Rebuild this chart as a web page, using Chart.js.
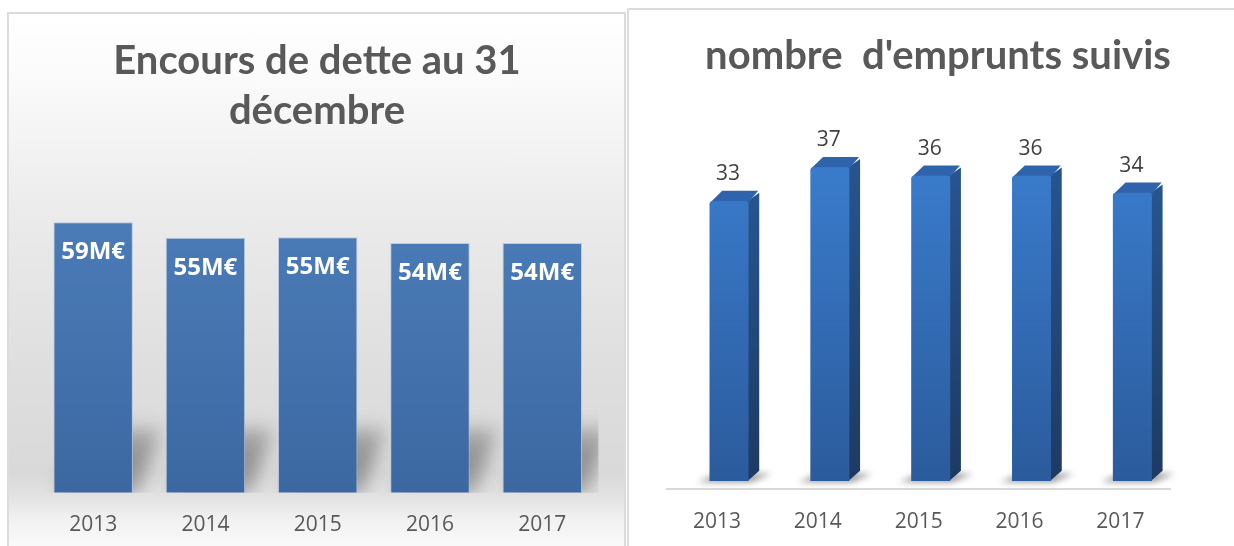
<!DOCTYPE html>
<html><head><meta charset="utf-8">
<script src="https://cdn.jsdelivr.net/npm/chart.js@4.4.0/dist/chart.umd.min.js"></script>
<style>
html,body{margin:0;padding:0;width:1234px;height:546px;overflow:hidden;background:#fff;}
#boxL{position:absolute;left:7px;top:12px;width:615px;height:545px;border:2px solid #dcdcdc;
  background:linear-gradient(to bottom,#ffffff 0px,#fbfbfb 60px,#ebebeb 200px,#dedede 360px,#d9d9d9 460px,#e2e2e2 482px,#f1f1f1 505px,#fafafa 534px);}
#boxR{position:absolute;left:627px;top:8px;width:620px;height:550px;border-left:2px solid #dcdcdc;border-top:2px solid #dcdcdc;background:#fff;}
#cL{position:absolute;left:8px;top:13px;}
#cR{position:absolute;left:629px;top:9px;}
</style></head>
<body>
<div id="boxL"></div><div id="boxR"></div>
<canvas id="cL" width="618" height="533"></canvas>
<canvas id="cR" width="618" height="537"></canvas>
<script>
// ---- data ----
const years = ['2013', '2014', '2015', '2016', '2017'];
const debtValues = [58.75, 55.4, 55.49, 54.25, 54.25];
const debtLabels = ['59M€', '55M€', '55M€', '54M€', '54M€'];
const loanCounts = [33, 37, 36, 36, 34];
const debtTitle = ['Encours de dette au 31', 'décembre'];
const loanTitle = "nombre  d'emprunts suivis";

const FONT = '"Open Sans", "Noto Sans", sans-serif';
const TFONT = 'Lato, "Open Sans", sans-serif';

// ---- left chart helpers ----
const wallShadow = {
  id: 'wallShadow',
  beforeDatasetsDraw(chart) {
    const {ctx, chartArea: ca} = chart;
    const meta = chart.getDatasetMeta(0);
    ctx.save();
    ctx.beginPath(); ctx.rect(ca.left, ca.top, ca.right - ca.left, ca.bottom - ca.top); ctx.clip();
    ctx.filter = 'blur(9px)';
    meta.data.forEach(b => {
      const l = b.x - b.width / 2, r = b.x + b.width / 2, base = b.base;
      const g = ctx.createLinearGradient(0, base - 66, 0, base);
      g.addColorStop(0, 'rgba(70,70,70,0.30)');
      g.addColorStop(0.5, 'rgba(70,70,70,0.50)');
      g.addColorStop(1, 'rgba(70,70,70,0.42)');
      ctx.fillStyle = g;
      ctx.beginPath();
      ctx.moveTo(l + 6, base + 2); ctx.lineTo(r + 4, base + 2);
      ctx.lineTo(r + 28, base - 64); ctx.lineTo(l + 28, base - 64);
      ctx.closePath(); ctx.fill();
    });
    ctx.restore();
  }
};
const insideLabels = {
  id: 'insideLabels',
  afterDatasetsDraw(chart) {
    const ctx = chart.ctx;
    ctx.save();
    ctx.font = 'bold 24px ' + FONT;
    ctx.fillStyle = '#ffffff';
    ctx.textAlign = 'center'; ctx.textBaseline = 'middle';
    chart.getDatasetMeta(0).data.forEach((b, i) => ctx.fillText(debtLabels[i], b.x, b.y + 30));
    ctx.restore();
  }
};

// ---- right chart helpers (3D look) ----
const OX = 12, OY = -8, DX = 10.7, DY = 10.3;
const bar3d = {
  id: 'bar3d',
  beforeDatasetsDraw(chart) {
    const ctx = chart.ctx;
    chart.getDatasetMeta(0).data.forEach(b => {
      const l = b.x - b.width / 2 + OX, r = b.x + b.width / 2 + OX, t = b.y + OY, bot = b.base + OY;
      ctx.save();
      ctx.filter = 'blur(3px)';
      ctx.fillStyle = 'rgba(0,0,0,0.42)';
      ctx.beginPath();
      ctx.moveTo(l - 12, bot + 1); ctx.lineTo(r + 2, bot + 1);
      ctx.lineTo(r + DX + 12, bot - DY + 3); ctx.lineTo(l + DX - 2, bot - DY + 3);
      ctx.closePath(); ctx.fill();
      ctx.restore();
      const gs = ctx.createLinearGradient(0, t, 0, bot);
      gs.addColorStop(0, '#27548f'); gs.addColorStop(1, '#1d3a62');
      ctx.fillStyle = gs;
      ctx.beginPath();
      ctx.moveTo(r - 1, t); ctx.lineTo(r + DX, t - DY + 2); ctx.lineTo(r + DX, bot - DY); ctx.lineTo(r - 1, bot);
      ctx.closePath(); ctx.fill();
      ctx.fillStyle = '#2f64ac';
      ctx.beginPath();
      ctx.moveTo(l + 1, t + 1); ctx.lineTo(l + DX + 2, t - DY); ctx.lineTo(r + DX - 1, t - DY); ctx.lineTo(r, t + 1);
      ctx.closePath(); ctx.fill();
    });
    ctx.save();
    ctx.translate(OX, OY);
  },
  afterDatasetsDraw(chart) {
    const ctx = chart.ctx;
    ctx.restore();
    ctx.save();
    ctx.font = '21px ' + FONT;
    ctx.fillStyle = '#404040';
    ctx.textAlign = 'center'; ctx.textBaseline = 'middle';
    chart.getDatasetMeta(0).data.forEach((b, i) => ctx.fillText(String(loanCounts[i]), b.x + OX - 1, b.y + OY - 27));
    ctx.restore();
  }
};

function hiddenY(w, pos, extra) {
  return Object.assign({
    type: 'linear', position: pos, display: true,
    grid: {display: false}, border: {display: false}, ticks: {display: false},
    afterFit: s => { s.width = w; }
  }, extra || {});
}

function draw() {
  new Chart(document.getElementById('cL'), {
    type: 'bar',
    data: {
      labels: years,
      datasets: [{
        data: debtValues,
        backgroundColor: c => {
          const ca = c.chart.chartArea;
          if (!ca) return '#4a7ab5';
          const g = c.chart.ctx.createLinearGradient(0, ca.top, 0, ca.bottom);
          g.addColorStop(0, '#4f81bd'); g.addColorStop(1, '#3c68a1');
          return g;
        },
        borderColor: 'rgba(170,195,228,0.75)', borderWidth: 1,
        barPercentage: 0.708, categoryPercentage: 1
      }]
    },
    options: {
      responsive: false, animation: false, devicePixelRatio: 1,
      layout: {padding: 0},
      plugins: {
        legend: {display: false}, tooltip: {enabled: false},
        title: {display: true, text: debtTitle, color: '#595959',
          font: {family: TFONT, size: 40, weight: 'bold', lineHeight: 1.25},
          padding: {top: 23, bottom: 11.5}}
      },
      scales: {
        x: {grid: {display: false}, border: {display: false},
          ticks: {color: '#595959', font: {family: FONT, size: 21}, padding: 12},
          afterFit: s => { s.height = 53.3; }},
        y: hiddenY(29, 'left', {min: 0, max: 75}),
        y2: hiddenY(27.6, 'right')
      }
    },
    plugins: [wallShadow, insideLabels]
  });

  new Chart(document.getElementById('cR'), {
    type: 'bar',
    data: {
      labels: years,
      datasets: [{
        data: loanCounts,
        backgroundColor: c => {
          const ca = c.chart.chartArea;
          if (!ca) return '#3470bd';
          const g = c.chart.ctx.createLinearGradient(0, ca.top, 0, ca.bottom);
          g.addColorStop(0, '#3b7ecf'); g.addColorStop(1, '#2b5b9c');
          return g;
        },
        borderWidth: 0, borderRadius: {topLeft: 3, topRight: 3},
        barPercentage: 0.387, categoryPercentage: 1
      }]
    },
    options: {
      responsive: false, animation: false, devicePixelRatio: 1,
      layout: {padding: 0},
      plugins: {
        legend: {display: false}, tooltip: {enabled: false},
        title: {display: true, text: loanTitle, color: '#595959',
          font: {family: TFONT, size: 40, weight: 'bold', lineHeight: 1.25},
          padding: {top: 22, bottom: 68.8}}
      },
      scales: {
        x: {grid: {display: false}, border: {display: true, color: '#d9d9d9', width: 2},
          ticks: {color: '#595959', font: {family: FONT, size: 21}, padding: 12},
          afterFit: s => { s.height = 57; }},
        y: hiddenY(37.6, 'left', {min: 0, max: 40}),
        y2: hiddenY(76.2, 'right')
      }
    },
    plugins: [bar3d]
  });
}

Promise.all([
  document.fonts.load('bold 40px Lato'),
  document.fonts.load('bold 24px "Open Sans"'),
  document.fonts.load('21px "Open Sans"')
]).then(draw, draw);
</script>
</body></html>
